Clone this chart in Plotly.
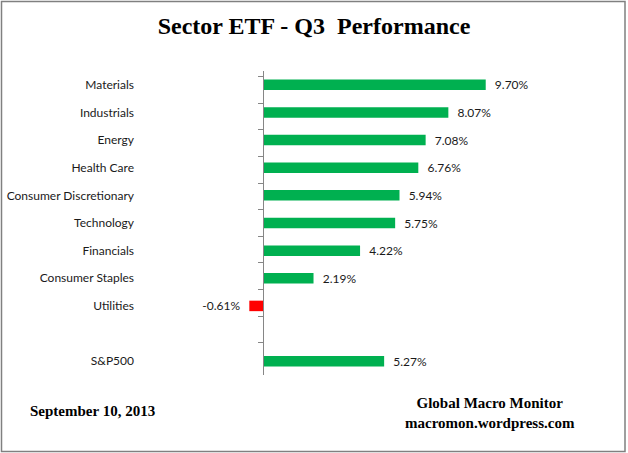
import plotly.graph_objects as go

categories = ["Materials", "Industrials", "Energy", "Health Care",
              "Consumer Discretionary", "Technology", "Financials",
              "Consumer Staples", "Utilities", " ", "S&P500"]
values = [9.70, 8.07, 7.08, 6.76, 5.94, 5.75, 4.22, 2.19, -0.61, None, 5.27]

GREEN = "#00B050"
RED = "#FF0000"
colors = [RED if (v is not None and v < 0) else GREEN for v in values]
NB = "\u00a0"
labels = []
for v in values:
    if v is None:
        labels.append("")
    elif v < 0:
        labels.append(f"{v:.2f}%" + NB * 2)
    else:
        labels.append(NB * 2 + f"{v:.2f}%")

W, H = 628, 453
L, R, T, B = 141, 28, 71, 78
pw = W - L - R
ph = H - T - B
px_per = 22.93
zero_px = 263.3
xmin = (L - zero_px) / px_per
xmax = (W - R - zero_px) / px_per


def px2x(px):
    return (px - L) / pw


def py2y(py):
    return (H - B - py) / ph


fig = go.Figure()
fig.add_trace(go.Bar(
    y=categories, x=values, orientation="h",
    marker=dict(color=colors, line=dict(width=0)),
    text=labels, textposition="outside", cliponaxis=False,
    constraintext="none",
    textfont=dict(family="Lato", size=12, color="#1a1a1a"),
    hoverinfo="skip", showlegend=False,
))
# invisible trace to carry the axis with ticks at zero
fig.add_trace(go.Scatter(
    y=categories, x=[0] * len(categories), yaxis="y2", mode="markers",
    marker=dict(opacity=0), hoverinfo="skip", showlegend=False,
))

fig.update_layout(
    template="none",
    width=W, height=H,
    margin=dict(l=L, r=R, t=T, b=B, autoexpand=False),
    paper_bgcolor="white", plot_bgcolor="white",
    bargap=0.62,
    title=dict(
        text="<b>Sector ETF - Q3" + NB * 2 + "Performance</b>",
        x=0.5, xref="container", xanchor="center",
        y=1 - 26 / H, yref="container", yanchor="middle",
        font=dict(family="Liberation Serif", size=24, color="black"),
    ),
    xaxis=dict(range=[xmin, xmax], visible=False, fixedrange=True,
               automargin=False),
    yaxis=dict(
        autorange="reversed", showline=False, ticks="", showgrid=False,
        zeroline=False, tickfont=dict(family="Lato", size=12, color="#1a1a1a"),
        ticklabelstandoff=6, fixedrange=True, automargin=False,
    ),
    yaxis2=dict(
        overlaying="y", anchor="free", position=px2x(zero_px), side="left",
        autorange="reversed", showline=True, linecolor="#868686", linewidth=1,
        ticks="outside", ticklen=5, tickcolor="#868686", tickwidth=1,
        tickson="boundaries", automargin=False,
        showticklabels=False, showgrid=False, zeroline=False, fixedrange=True,
    ),
    annotations=[
        dict(text="<b>September 10, 2013</b>", xref="paper", yref="paper",
             x=px2x(28), y=py2y(411), xanchor="left", yanchor="middle",
             showarrow=False,
             font=dict(family="Liberation Serif", size=15, color="black")),
        dict(text="<b>Global Macro Monitor</b><br><b>macromon.wordpress.com</b>",
             xref="paper", yref="paper",
             x=px2x(490), y=py2y(413), xanchor="center", yanchor="middle",
             showarrow=False, align="center",
             font=dict(family="Liberation Serif", size=15, color="black")),
    ],
    shapes=[
        dict(type="rect", xref="paper", yref="paper",
             x0=px2x(1.5), x1=px2x(625), y0=py2y(451.5), y1=py2y(1.5),
             line=dict(color="#808080", width=1.5), layer="below"),
    ],
)

fig.write_html(
    "out.html",
    config={"displayModeBar": False},
    post_script="document.body.style.margin='0';"
                "document.body.style.overflow='hidden';",
)
